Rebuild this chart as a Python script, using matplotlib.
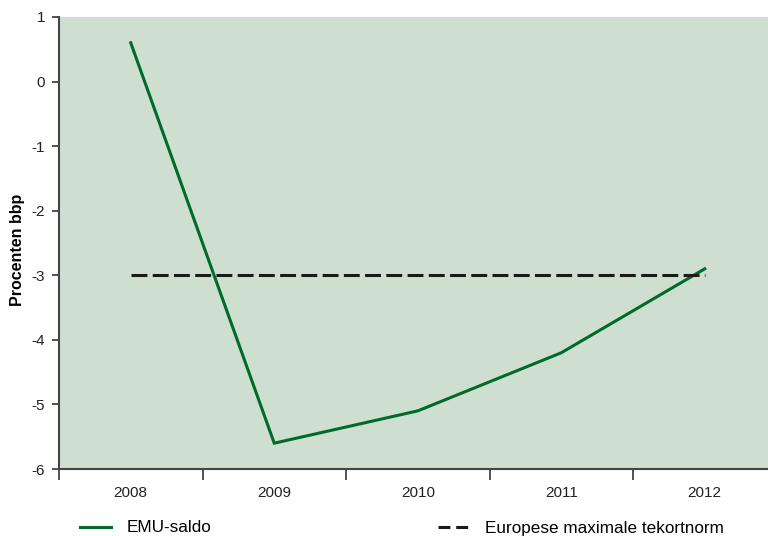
import matplotlib
matplotlib.use("Agg")
import matplotlib.pyplot as plt
from matplotlib.lines import Line2D

plt.rcParams['font.family'] = ['Liberation Sans', 'DejaVu Sans']

years = ['2008', '2009', '2010', '2011', '2012']
emu_saldo = [0.6, -5.6, -5.1, -4.2, -2.9]
norm = [-3, -3, -3, -3, -3]
yticks = [1, 0, -1, -2, -3, -4, -5, -6]

green = '#006a2e'
bg = '#cfdfcf'
spine_col = '#444444'

fig = plt.figure(figsize=(7.68, 5.36), dpi=100)
ax = fig.add_axes([59/768, 1 - 469/536, 717.5/768, 452/536])
ax.set_facecolor(bg)

x = list(range(len(years)))
ax.plot(x, emu_saldo, color=green, lw=2.2, solid_joinstyle='miter')
ax.plot(x, norm, color='#1a1a1a', lw=2.2, dashes=(5.2, 1.75))

ax.set_xlim(-0.5, len(years) - 0.5)
ax.set_ylim(-6, 1)
ax.set_yticks(yticks)
ax.set_yticklabels([str(v) for v in yticks], fontsize=11, color='#222222')

ax.set_xticks([i + 0.5 for i in range(-1, len(years))], minor=False)
ax.set_xticklabels([])
ax.set_xticks(x, minor=True)
ax.set_xticklabels(years, minor=True, fontsize=11, color='#222222')
ax.tick_params(axis='x', which='major', direction='out', length=8, width=1.3, color=spine_col)
ax.tick_params(axis='x', which='minor', length=0, pad=12)
ax.tick_params(axis='y', direction='out', length=5, width=1.3, color=spine_col, pad=5)

for s in ['top', 'right']:
    ax.spines[s].set_visible(False)
for s in ['left', 'bottom']:
    ax.spines[s].set_color(spine_col)
    ax.spines[s].set_linewidth(1.5)

ax.set_ylabel('Procenten bbp', fontsize=11.5, fontweight='bold')
ax.yaxis.set_label_coords(-34/717.5, 0.485)

h1 = Line2D([], [], color=green, lw=2.2)
h2 = Line2D([], [], color='#1a1a1a', lw=2.2, dashes=(3.9, 1.9))
leg1 = fig.legend([h1], ['EMU-saldo'], loc='center left', bbox_to_anchor=(80/768, 1 - 528/536),
                  frameon=False, fontsize=12.3, handlelength=1.8, handletextpad=0.95, borderaxespad=0,
                  borderpad=0)
leg2 = fig.legend([h2], ['Europese maximale tekortnorm'], loc='center left',
                  bbox_to_anchor=(438/768, 1 - 528/536),
                  frameon=False, fontsize=12.3, handlelength=1.8, handletextpad=0.95, borderaxespad=0,
                  borderpad=0)

fig.savefig('out.png', dpi=100)
